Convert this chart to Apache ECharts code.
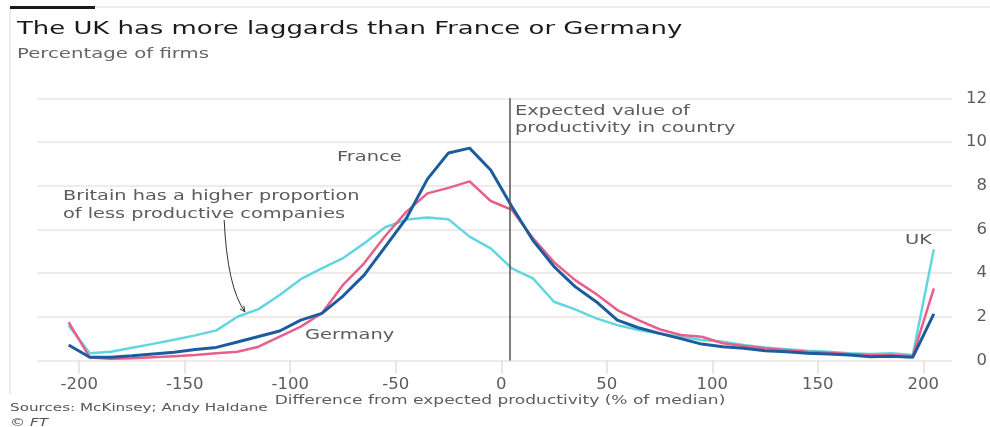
<!DOCTYPE html>
<html>
<head>
<meta charset="utf-8">
<script src="https://cdn.jsdelivr.net/npm/echarts@6/dist/echarts.min.js"></script>
<style>
html,body{margin:0;padding:0;background:#fff;}
#c{width:990px;height:427px;}
</style>
</head>
<body>
<div id="c"></div>
<script>
// Data
const xValues = [-205,-195,-185,-175,-165,-155,-145,-135,-125,-115,-105,-95,-85,-75,-65,-55,-45,-35,-25,-15,-5,5,15,25,35,45,55,65,75,85,95,105,115,125,135,145,155,165,175,185,195,205];
const france = [0.71,0.15,0.15,0.22,0.30,0.38,0.50,0.60,0.85,1.10,1.35,1.85,2.16,2.95,3.91,5.20,6.50,8.30,9.50,9.72,8.72,7.05,5.50,4.30,3.38,2.69,1.85,1.50,1.24,1.00,0.75,0.63,0.56,0.45,0.40,0.33,0.30,0.25,0.17,0.20,0.15,2.13];
const germany = [1.75,0.14,0.08,0.10,0.15,0.20,0.25,0.33,0.40,0.63,1.09,1.55,2.16,3.46,4.45,5.70,6.80,7.65,7.90,8.20,7.30,6.90,5.60,4.50,3.68,3.04,2.31,1.85,1.43,1.17,1.09,0.79,0.66,0.56,0.48,0.40,0.36,0.30,0.25,0.25,0.20,3.30];
const uk = [1.60,0.33,0.40,0.58,0.76,0.95,1.15,1.38,2.00,2.35,3.00,3.72,4.22,4.68,5.36,6.10,6.45,6.55,6.46,5.67,5.13,4.22,3.76,2.69,2.34,1.93,1.62,1.40,1.24,1.09,0.94,0.86,0.71,0.60,0.51,0.45,0.40,0.33,0.30,0.33,0.25,5.09];
const xTicks = [-200,-150,-100,-50,0,50,100,150,200];
const yTicks = [0,2,4,6,8,10,12];
const expectedValue = 4;

const FONT = "'DejaVu Sans', sans-serif";
const GREY = '#5c5c5c';

function pairs(arr){ return arr.map((v,i)=>[xValues[i], v]); }

const chart = echarts.init(document.getElementById('c'), null, {renderer:'canvas'});

const lineSeries = (name, data, color, width) => ({
  name, type:'line', data: pairs(data), symbol:'none', smooth:false,
  lineStyle:{color, width}, itemStyle:{color}, z:3, animation:false
});

chart.setOption({
  animation:false,
  backgroundColor:'#ffffff',
  grid:{left:37, right:38, top:98.3, bottom:66.5, containLabel:false},
  xAxis:{
    type:'value', min:-220, max:213.6,
    axisLine:{show:false},
    splitLine:{show:false},
    axisTick:{show:true, customValues:xTicks, length:13, lineStyle:{color:'#e6ddd6', width:1.5}},
    axisLabel:{customValues:xTicks, margin:16, fontSize:16.5, color:GREY, fontFamily:FONT}
  },
  yAxis:{
    type:'value', position:'right', min:0, max:12, interval:2,
    axisLine:{show:false}, axisTick:{show:false},
    splitLine:{show:true, lineStyle:{color:'#ece5df', width:1.5}},
    axisLabel:{align:'right', margin:35, fontSize:16.5, color:GREY, fontFamily:FONT,
      formatter:(v)=> yTicks.indexOf(v)>=0 ? String(v) : ''}
  },
  series:[
    lineSeries('UK', uk, '#62d6e0', 2.5),
    lineSeries('Germany', germany, '#e8608a', 2.5),
    Object.assign(lineSeries('France', france, '#1c5c9e', 3), {
      markLine:{
        silent:true, symbol:'none', label:{show:false},
        lineStyle:{color:'#555555', width:1.5, type:'solid'},
        data:[{xAxis:expectedValue}]
      }
    })
  ]
});

// Text elements; the reference is horizontally stretched, so texts get a scaleX
function txt(text, x, y, size, sx, opts){
  return {
    type:'text', silent:true, z:10, x, y, scaleX:sx, scaleY:1,
    style:Object.assign({text, x:0, y:0, fontSize:size, fontFamily:FONT, fill:GREY, align:'left', verticalAlign:'middle'}, opts||{})
  };
}

// Arrow annotation anchored in data space
const startPt = chart.convertToPixel({gridIndex:0}, [-131.3, 6.43]);
const tipPt = chart.convertToPixel({gridIndex:0}, [-121.5, 2.23]);
const ctrl = [startPt[0] + 3, tipPt[1] - 25];

chart.setOption({
  graphic:[
    {type:'line', silent:true, shape:{x1:10, y1:7, x2:990, y2:7}, style:{stroke:'#dddddd', lineWidth:1}},
    {type:'line', silent:true, shape:{x1:10, y1:7, x2:10, y2:395}, style:{stroke:'#dddddd', lineWidth:1}},
    {type:'rect', silent:true, shape:{x:10, y:6, width:85, height:3}, style:{fill:'#1a1a1a'}},
    txt('The UK has more laggards than France or Germany', 17, 29, 18.5, 1.40, {fill:'#1a1a1a'}),
    txt('Percentage of firms', 17, 54, 13.5, 1.46, {fill:'#666666'}),
    txt('France', 337, 157, 13.5, 1.44),
    txt('Germany', 305, 335, 13.5, 1.44),
    txt('UK', 905, 240, 13.5, 1.44),
    txt('Britain has a higher proportion', 63, 196, 13.5, 1.43),
    txt('of less productive companies', 63, 214, 13.5, 1.43),
    txt('Expected value of', 515, 111, 13.5, 1.44),
    txt('productivity in country', 515, 128, 13.5, 1.44),
    txt('Difference from expected productivity (% of median)', 500, 401, 12, 1.42, {align:'center'}),
    txt('Sources: McKinsey; Andy Haldane', 10, 408, 11, 1.38, {fill:'#555555'}),
    txt('© FT', 10, 423, 11, 1.38, {fill:'#555555', fontStyle:'italic'}),
    {type:'bezierCurve', silent:true, z:10,
      shape:{x1:startPt[0], y1:startPt[1], x2:tipPt[0], y2:tipPt[1], cpx1:ctrl[0], cpy1:ctrl[1]},
      style:{stroke:'#333333', lineWidth:1, fill:null}},
    {type:'polyline', silent:true, z:10,
      shape:{points:[[tipPt[0]-5, tipPt[1]-3],[tipPt[0], tipPt[1]],[tipPt[0]-1, tipPt[1]-6]]},
      style:{stroke:'#333333', lineWidth:1, fill:null}}
  ]
});
</script>
</body>
</html>
